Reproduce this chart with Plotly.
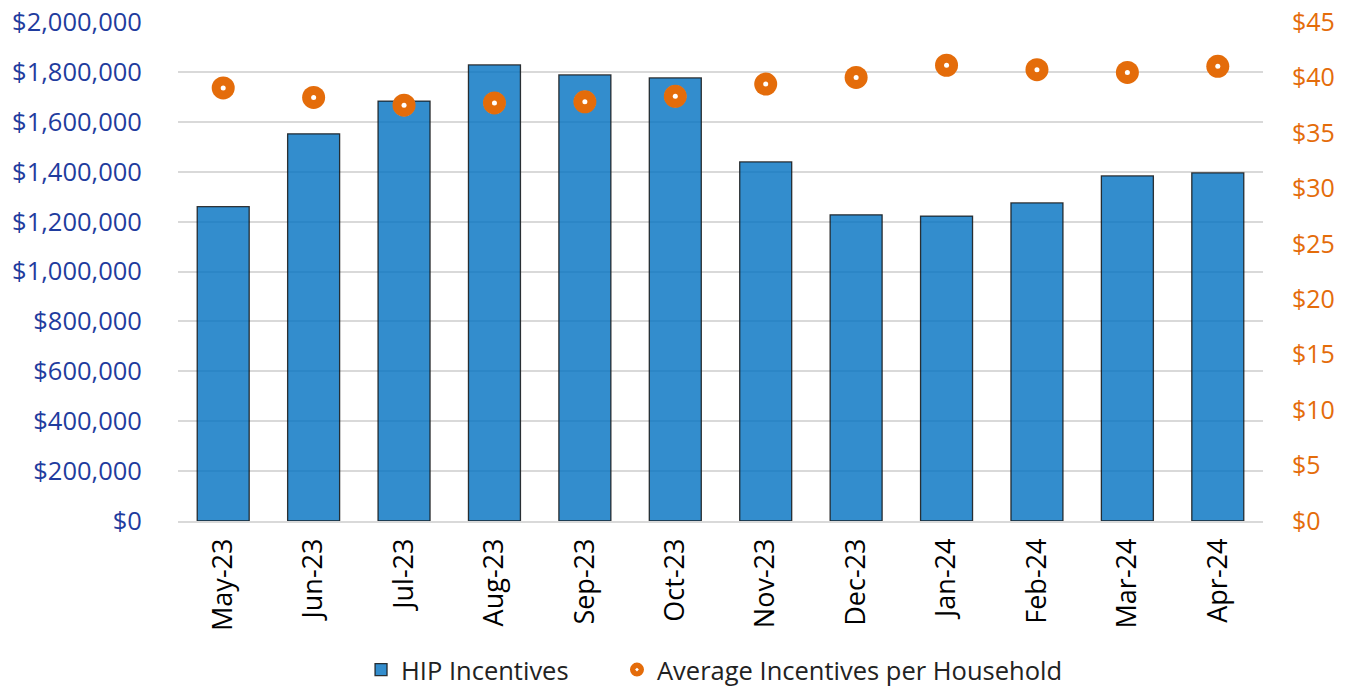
import plotly.graph_objects as go

months = ["May-23", "Jun-23", "Jul-23", "Aug-23", "Sep-23", "Oct-23",
          "Nov-23", "Dec-23", "Jan-24", "Feb-24", "Mar-24", "Apr-24"]
hip_incentives = [1260000, 1552000, 1683000, 1828000, 1788000, 1776000,
                  1439000, 1227000, 1222000, 1275000, 1383000, 1395000]
avg_per_household = [39.05, 38.2, 37.5, 37.7, 37.8, 38.3,
                     39.4, 40.0, 41.1, 40.7, 40.45, 41.0]

FONT = "Open Sans"
ORANGE = "#E46C0A"
BLUE_TXT = "#1F3C9E"

fig = go.Figure()
fig.add_trace(go.Bar(
    x=months, y=hip_incentives, name="HIP Incentives",
    marker=dict(color="rgba(0,112,192,0.8)",
                line=dict(color="rgba(20,20,20,0.85)", width=1.3)),
    yaxis="y", legend="legend",
))
# legend-bearing layer (ring + dot look in legend), hidden under the solid markers
fig.add_trace(go.Scatter(
    x=months, y=avg_per_household, mode="markers",
    name="Average Incentives per Household", legendgroup="avg", showlegend=True,
    marker=dict(symbol="circle-dot", size=20, color=ORANGE,
                line=dict(color="white", width=2)),
    yaxis="y2", hoverinfo="skip", legend="legend2",
))
fig.add_trace(go.Scatter(
    x=months, y=avg_per_household, mode="markers",
    name="Average Incentives per Household", legendgroup="avg", showlegend=False,
    marker=dict(symbol="circle", size=23, color=ORANGE, line=dict(width=0)),
    yaxis="y2", legend="legend2",
))
fig.add_trace(go.Scatter(
    x=months, y=avg_per_household, mode="markers",
    legendgroup="avg", showlegend=False, hoverinfo="skip",
    marker=dict(symbol="circle", size=5, color="white", line=dict(width=0)),
    yaxis="y2", legend="legend2",
))

legend_common = dict(orientation="h", xanchor="left", y=-0.2986, yanchor="middle",
                     font=dict(family=FONT, size=25.5, color="#222222"),
                     bgcolor="rgba(0,0,0,0)")

fig.update_layout(
    width=1351, height=686,
    margin=dict(l=178, r=88, t=22, b=165, autoexpand=False),
    paper_bgcolor="white", plot_bgcolor="white",
    font=dict(family=FONT, size=24, color="black"),
    bargap=0.425,
    showlegend=True,
    legend=dict(x=0.1687, **legend_common),
    legend2=dict(x=0.4046, **legend_common),
    xaxis=dict(type="category", range=[-0.5, 11.5], tickangle=-90, showgrid=False, ticks="",
               showline=True, linecolor="#D9D9D9", linewidth=1.5, automargin=False,
               ticklabelstandoff=5,
               tickfont=dict(family=FONT, size=27, color="black")),
    yaxis=dict(range=[0, 2000000], dtick=200000, tickformat="$,.0f",
               showgrid=True, gridcolor="#D9D9D9", gridwidth=1.5, automargin=False,
               zeroline=False, showline=False,
               ticks="outside", ticklen=30, tickcolor="rgba(0,0,0,0)",
               ticklabeloverflow="allow",
               tickfont=dict(family=FONT, size=25.5, color=BLUE_TXT)),
    yaxis2=dict(range=[0, 45], dtick=5, tickformat="$,.0f", overlaying="y", side="right",
                showgrid=False, zeroline=False, showline=False, automargin=False,
                ticks="outside", ticklen=23, tickcolor="rgba(0,0,0,0)",
                ticklabeloverflow="allow",
                tickfont=dict(family=FONT, size=25, color=ORANGE)),
)

fig.write_html("out.html", config={"displayModeBar": False},
               post_script="document.body.style.margin='0';")
